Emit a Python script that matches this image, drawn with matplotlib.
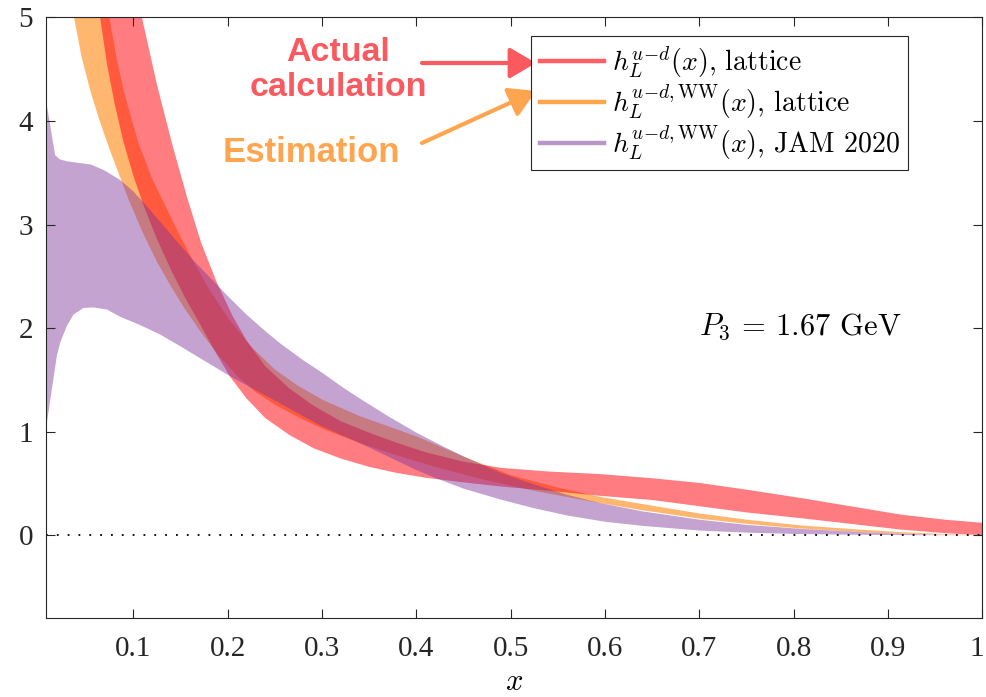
import numpy as np
import matplotlib
matplotlib.use("Agg")
import matplotlib.pyplot as plt
import matplotlib.transforms as mtransforms
from matplotlib.lines import Line2D
from matplotlib.patches import ArrowStyle

plt.rcParams['mathtext.fontset'] = 'cm'
plt.rcParams['font.family'] = ['Liberation Serif', 'DejaVu Serif']

# band edges, (x, y) along each edge
# h_L^{u-d}, lattice (red)
red_up_x = [0.100, 0.109, 0.125, 0.141, 0.157, 0.172, 0.188, 0.205, 0.22, 0.24, 0.265, 0.291, 0.32, 0.35,
            0.38, 0.41, 0.45, 0.49, 0.54, 0.595, 0.65, 0.70, 0.75, 0.807, 0.86, 0.913, 0.96, 1.0]
red_up_y = [5.6, 5.0, 4.35, 3.78, 3.26, 2.82, 2.45, 2.12, 1.88, 1.63, 1.42, 1.25, 1.10, 0.99,
            0.89, 0.80, 0.71, 0.65, 0.615, 0.59, 0.55, 0.505, 0.44, 0.36, 0.28, 0.20, 0.15, 0.12]
red_lo_x = [0.058, 0.0647, 0.072, 0.08, 0.0894, 0.100, 0.111, 0.125, 0.14, 0.155, 0.17, 0.185, 0.2025, 0.22,
            0.24, 0.265, 0.291, 0.32, 0.35, 0.38, 0.41, 0.45, 0.49, 0.54, 0.595, 0.65, 0.70, 0.75,
            0.807, 0.86, 0.913, 0.96, 1.0]
red_lo_y = [5.6, 5.0, 4.55, 4.17, 3.80, 3.47, 3.18, 2.86, 2.56, 2.29, 2.05, 1.80, 1.53, 1.32,
            1.13, 0.97, 0.84, 0.74, 0.66, 0.60, 0.555, 0.51, 0.47, 0.43, 0.38, 0.34, 0.28, 0.22,
            0.165, 0.11, 0.055, 0.02, 0.0]

# h_L^{u-d,WW}, lattice (orange)
ora_up_x = [0.068, 0.0745, 0.082, 0.09, 0.1053, 0.12, 0.135, 0.15, 0.165, 0.18, 0.20, 0.225, 0.25, 0.275,
            0.30, 0.34, 0.38, 0.404, 0.45, 0.50, 0.55, 0.595, 0.64, 0.70, 0.75, 0.807, 0.86, 0.913, 0.96, 1.0]
ora_up_y = [5.4, 5.0, 4.62, 4.28, 3.79, 3.44, 3.16, 2.88, 2.62, 2.38, 2.10, 1.82, 1.60, 1.44,
            1.31, 1.15, 1.02, 0.94, 0.76, 0.58, 0.46, 0.37, 0.30, 0.21, 0.15, 0.095, 0.06, 0.03, 0.012, 0.0]
ora_lo_x = [0.032, 0.0371, 0.045, 0.055, 0.065, 0.075, 0.085, 0.095, 0.11, 0.125, 0.14, 0.155, 0.17, 0.19,
            0.21, 0.23, 0.25, 0.277, 0.30, 0.34, 0.38, 0.42, 0.47, 0.524, 0.595, 0.637, 0.70, 0.75,
            0.807, 0.86, 0.913, 1.0]
ora_lo_y = [5.4, 5.0, 4.62, 4.27, 3.98, 3.72, 3.48, 3.24, 2.92, 2.64, 2.40, 2.18, 1.98, 1.74,
            1.54, 1.38, 1.26, 1.13, 1.03, 0.89, 0.77, 0.66, 0.54, 0.43, 0.31, 0.245, 0.16, 0.11,
            0.065, 0.035, 0.015, 0.0]

# h_L^{u-d,WW}, JAM 2020 (purple)
jam_up_x = [0.007, 0.017, 0.022, 0.03, 0.055, 0.07, 0.086, 0.10, 0.115, 0.13, 0.145, 0.165, 0.18, 0.20,
            0.22, 0.24, 0.256, 0.28, 0.30, 0.32, 0.34, 0.37, 0.40, 0.43, 0.455, 0.49, 0.525, 0.56,
            0.595, 0.64, 0.70, 0.75, 0.81, 0.86, 0.91, 0.95, 1.0]
jam_up_y = [4.22, 3.67, 3.63, 3.61, 3.58, 3.52, 3.43, 3.32, 3.17, 3.01, 2.85, 2.64, 2.50, 2.31,
            2.13, 1.97, 1.85, 1.69, 1.57, 1.44, 1.32, 1.15, 0.99, 0.85, 0.74, 0.60, 0.49, 0.39,
            0.31, 0.23, 0.15, 0.10, 0.06, 0.035, 0.015, 0.005, 0.0]
jam_lo_x = [0.007, 0.0082, 0.0188, 0.0223, 0.0294, 0.0364, 0.047, 0.0576, 0.0718, 0.0859, 0.107, 0.128,
            0.1497, 0.2025, 0.26, 0.30, 0.34, 0.37, 0.40, 0.418, 0.45, 0.489, 0.525, 0.56, 0.60,
            0.64, 0.70, 0.75, 0.80, 0.86, 0.93, 1.0]
jam_lo_y = [0.98, 1.085, 1.73, 1.86, 2.02, 2.13, 2.195, 2.20, 2.18, 2.11, 2.03, 1.94,
            1.825, 1.535, 1.25, 1.05, 0.89, 0.76, 0.63, 0.56, 0.45, 0.345, 0.26, 0.19, 0.13,
            0.09, 0.045, 0.025, 0.012, 0.005, 0.0, 0.0]

labels = [r'$h_L^{u\!-\!d}(x)$, lattice',
          r'$h_L^{u\!-\!d,\mathrm{WW}}(x)$, lattice',
          r'$h_L^{u\!-\!d,\mathrm{WW}}(x)$, JAM 2020']
x_ticks = [0.1, 0.2, 0.3, 0.4, 0.5, 0.6, 0.7, 0.8, 0.9, 1.0]
x_ticklabels = ['0.1', '0.2', '0.3', '0.4', '0.5', '0.6', '0.7', '0.8', '0.9', '1']
y_ticks = [0, 1, 2, 3, 4, 5]


def band(ax, xu, yu, xl, yl, color, alpha):
    px = np.concatenate([xu, xl[::-1]])
    py = np.concatenate([yu, yl[::-1]])
    ax.fill(px, py, color=color, alpha=alpha, lw=0)


fig = plt.figure(figsize=(9.87, 6.97), dpi=100)
ax = fig.add_axes([0.0463, 0.1133, 0.9489, 0.8616])

band(ax, ora_up_x, ora_up_y, ora_lo_x, ora_lo_y, (1.0, 0.5, 0.0), 0.57)
band(ax, red_up_x, red_up_y, red_lo_x, red_lo_y, (1.0, 0.03, 0.07), 0.53)
band(ax, jam_up_x, jam_up_y, jam_lo_x, jam_lo_y, (0.5, 0.2, 0.6), 0.45)

ax.axhline(0, color='black', lw=1.3, ls=(0, (1, 5)), zorder=1)

ax.set_xlim(0.007, 1.0)
ax.set_ylim(-0.8, 5)
ax.set_xticks(x_ticks)
ax.set_xticklabels(x_ticklabels)
ax.set_yticks(y_ticks)
axc = (0.15, 0.15, 0.15)
ax.tick_params(direction='in', top=True, right=True, length=6.5, width=0.8,
               labelsize=21, colors=axc, labelcolor=axc)
ax.tick_params(axis='x', pad=13)
ax.tick_params(axis='y', pad=9)
for s in ax.spines.values():
    s.set_color(axc)
    s.set_linewidth(0.8)
ax.set_xlabel(r'$x$', fontsize=22, labelpad=4)

# keep the "1" at the right end inside the canvas
last = ax.get_xticklabels()[-1]
last.set_transform(last.get_transform() +
                   mtransforms.ScaledTranslation(-4 / 72, 0, fig.dpi_scale_trans))

handles = [Line2D([0], [0], color='#ff5f64', lw=3.2),
           Line2D([0], [0], color='#ffa64d', lw=3.2),
           Line2D([0], [0], color='#b996c8', lw=3.2)]
leg = ax.legend(handles, labels, loc='upper right', bbox_to_anchor=(0.921, 0.969),
                prop={'family': 'cmr10', 'size': 20}, frameon=True, fancybox=False,
                framealpha=1, edgecolor=axc, handlelength=2.3, handletextpad=0.3,
                labelspacing=0.05, borderpad=0.3, borderaxespad=0)
leg.get_frame().set_linewidth(0.8)

ax.text(0.70, 2.01, r'$P_3$ = 1.67 GeV', fontsize=22, family='cmr10',
        va='center', ha='left')

# hand-drawn callouts
red_txt = '#fa5a5f'
ora_txt = '#ffa54f'
fig.text(338 / 987, 1 - 70 / 697, 'Actual\ncalculation', ha='center', va='center',
         fontsize=24.5, fontweight='bold', family='Liberation Sans', color=red_txt,
         linespacing=1.2)
fig.text(311 / 987, 1 - 152 / 697, 'Estimation', ha='center', va='center',
         fontsize=25, fontweight='bold', family='Liberation Sans', color=ora_txt)

head = ArrowStyle('-|>', head_length=0.8, head_width=0.47)
ax.annotate('', xy=(536 / 987, 1 - 63 / 697), xytext=(422 / 987, 1 - 63 / 697),
            xycoords='figure fraction', textcoords='figure fraction',
            arrowprops=dict(arrowstyle=head, color=red_txt, lw=3, mutation_scale=20,
                            shrinkA=0, shrinkB=0))
ax.annotate('', xy=(536 / 987, 1 - 91 / 697), xytext=(422 / 987, 1 - 143 / 697),
            xycoords='figure fraction', textcoords='figure fraction',
            arrowprops=dict(arrowstyle=head, color=ora_txt, lw=3, mutation_scale=20,
                            shrinkA=0, shrinkB=0))

fig.savefig('out.png', dpi=100, facecolor='white')
